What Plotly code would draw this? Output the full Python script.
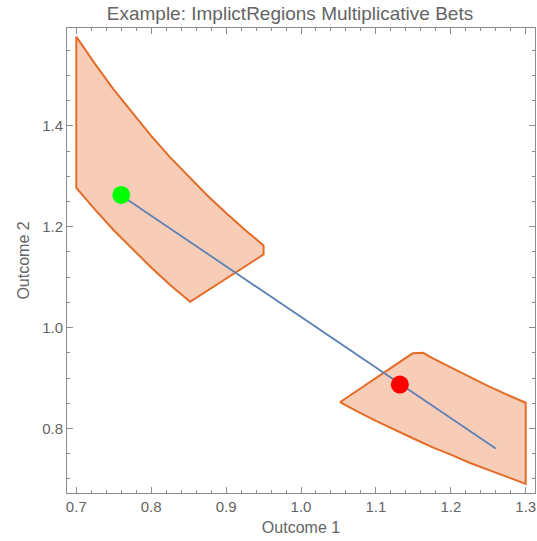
import plotly.graph_objects as go

# Region 1 (upper-left) boundary (clockwise)
region1_x = [0.700, 0.725, 0.750, 0.775, 0.800, 0.825, 0.850, 0.875, 0.900, 0.925, 0.950,
             0.950, 0.852, 0.825, 0.800, 0.775, 0.750, 0.725, 0.700, 0.700]
region1_y = [1.577, 1.523, 1.472, 1.425, 1.380, 1.338, 1.299, 1.262, 1.227, 1.194, 1.163,
             1.145, 1.051, 1.085, 1.119, 1.155, 1.193, 1.234, 1.277, 1.577]

# Region 2 (lower-right) boundary
region2_x = [1.052, 1.149, 1.163, 1.175, 1.200, 1.225, 1.250, 1.275, 1.300,
             1.300, 1.275, 1.250, 1.225, 1.200, 1.175, 1.150, 1.125, 1.100, 1.075, 1.052]
region2_y = [0.852, 0.949, 0.950, 0.940, 0.921, 0.902, 0.884, 0.867, 0.851,
             0.690, 0.704, 0.718, 0.732, 0.748, 0.763, 0.780, 0.797, 0.815, 0.834, 0.852]

# Bet line
line_x = [0.760, 1.260]
line_y = [1.262, 0.760]

# Points
green_pt = (0.760, 1.263)
red_pt = (1.132, 0.887)

x_ticks = [0.7, 0.8, 0.9, 1.0, 1.1, 1.2, 1.3]
x_ticktext = ["0.7", "0.8", "0.9", "1.0", "1.1", "1.2", "1.3"]
y_ticks = [0.8, 1.0, 1.2, 1.4]
y_ticktext = ["0.8", "1.0", "1.2", "1.4"]

EDGE = "rgb(228,108,38)"
FILL = "rgb(247,205,184)"
GRAY = "rgb(100,100,100)"
FONT = "Liberation Sans, Arial, sans-serif"

fig = go.Figure()
for rx, ry in [(region1_x, region1_y), (region2_x, region2_y)]:
    fig.add_trace(go.Scatter(x=rx, y=ry, mode="lines", fill="toself",
                             fillcolor=FILL, line=dict(color=EDGE, width=2),
                             hoverinfo="skip", showlegend=False))
fig.add_trace(go.Scatter(x=line_x, y=line_y, mode="lines",
                         line=dict(color="rgb(94,129,181)", width=1.8),
                         showlegend=False))
fig.add_trace(go.Scatter(x=[green_pt[0]], y=[green_pt[1]], mode="markers",
                         marker=dict(color="rgb(0,255,0)", size=18), showlegend=False))
fig.add_trace(go.Scatter(x=[red_pt[0]], y=[red_pt[1]], mode="markers",
                         marker=dict(color="rgb(255,0,0)", size=18), showlegend=False))

axis_common = dict(showgrid=False, zeroline=False, showline=True,
                   linecolor="rgb(140,140,140)", linewidth=1, mirror="ticks",
                   ticks="inside", ticklen=6, tickcolor="rgb(140,140,140)",
                   tickfont=dict(family=FONT, size=15, color=GRAY))

fig.update_xaxes(range=[0.6876, 1.3124], tickvals=x_ticks, ticktext=x_ticktext,
                 minor=dict(dtick=0.02, tick0=0.7, ticks="inside", ticklen=3,
                            tickcolor="rgb(140,140,140)"),
                 title=dict(text="Outcome 1", font=dict(family=FONT, size=16, color=GRAY),
                            standoff=7),
                 **axis_common)
fig.update_yaxes(range=[0.672, 1.594], tickvals=y_ticks, ticktext=y_ticktext,
                 minor=dict(dtick=0.05, tick0=0.8, ticks="inside", ticklen=3,
                            tickcolor="rgb(140,140,140)"),
                 title=dict(text="Outcome 2", font=dict(family=FONT, size=16, color=GRAY),
                            standoff=8),
                 **axis_common)

fig.update_layout(
    width=537, height=541,
    margin=dict(l=67, r=2, t=28, b=48),
    paper_bgcolor="white", plot_bgcolor="white",
    title=dict(text="Example: ImplictRegions Multiplicative Bets",
               font=dict(family=FONT, size=19, color=GRAY),
               x=0.54, xanchor="center", y=0.975, yanchor="middle"),
)

fig.write_html("out.html")
